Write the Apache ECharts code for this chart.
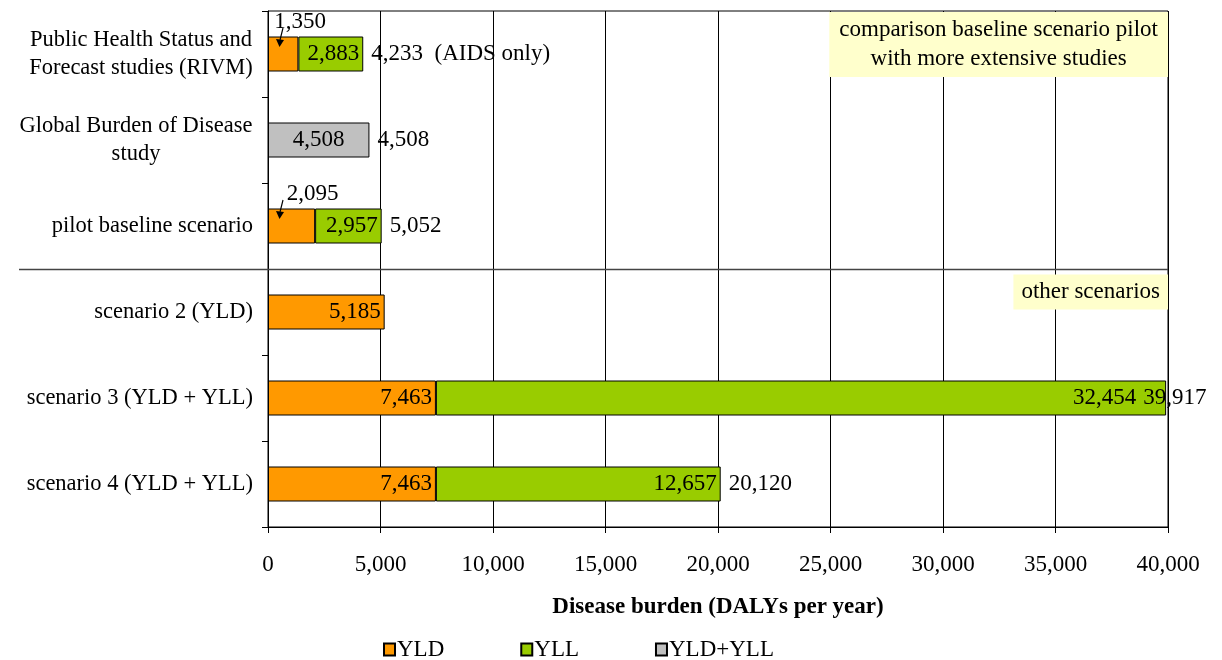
<!DOCTYPE html>
<html><head><meta charset="utf-8">
<script src="https://cdn.jsdelivr.net/npm/echarts@6/dist/echarts.min.js"></script>
<style>html,body{margin:0;padding:0;background:#fff}#c{width:1222px;height:660px}</style>
</head><body><div id="c"></div>
<script>
const categories = ['Public Health Status and\nForecast studies (RIVM)', 'Global Burden of Disease\nstudy', 'pilot baseline scenario', 'scenario 2 (YLD)', 'scenario 3 (YLD + YLL)', 'scenario 4 (YLD + YLL)'];
const yld = [1350, null, 2095, 5185, 7463, 7463];
const yll = [2883, null, 2957, null, 32454, 12657];
const combined = [null, 4508, null, null, null, null];
const totals = [4233, 4508, 5052, null, 39917, 20120];
const totalSuffix = ['  (AIDS only)', '', '', '', '', ''];
const xTicks = {min: 0, max: 40000, step: 5000};

const FONT = '"Liberation Serif", "Times New Roman", serif';
const FS = 23;
const FSC = 22.5;
const fmt = v => Number(v).toLocaleString('en-US');

const mc = document.createElement('canvas').getContext('2d');
mc.font = FSC + 'px "Liberation Serif"';
const rich = {};
const labelFmt = {};
categories.forEach((c, i) => {
  const lines = c.split('\n');
  if (lines.length > 1) {
    const w = Math.max(...lines.map(l => mc.measureText(l).width));
    rich['c' + i] = {width: Math.ceil(w), align: 'center', fontSize: FSC, fontFamily: FONT, color: '#000', lineHeight: 28};
    labelFmt[c] = lines.map(l => '{c' + i + '|' + l + '}').join('\n');
  } else {
    labelFmt[c] = c;
  }
});
mc.font = FS + 'px "Liberation Serif"';

const chart = echarts.init(document.getElementById('c'), null, {renderer: 'canvas'});
const border = {borderColor: '#000', borderWidth: 1};

const yldData = yld.map((v, i) => {
  if (v == null) return null;
  if (i === 0 || i === 2) {
    return {value: v, label: {show: true, position: 'top', distance: 3, offset: [i === 0 ? 17 : 21, 0]}};
  }
  return {value: v};
});
const yllData = yll.map((v, i) => {
  if (v == null) return null;
  if (i === 4) return {value: v, label: {offset: [-26, 0]}};
  return {value: v};
});
const totalData = totals.map((v, i) => v == null ? null : {
  value: [v, i],
  label: i === 4 ? {offset: [-31, 0]} : {}
}).filter(d => d);

const option = {
  animation: false,
  textStyle: {fontFamily: FONT, color: '#000'},
  grid: {left: 268, right: 54, top: 11, bottom: 133, show: true, borderColor: '#000', borderWidth: 1},
  xAxis: {
    type: 'value', min: xTicks.min, max: xTicks.max, interval: xTicks.step,
    name: 'Disease burden (DALYs per year)', nameLocation: 'middle', nameGap: 69,
    nameTextStyle: {fontSize: FS, fontWeight: 'bold', fontFamily: FONT, color: '#000'},
    axisLine: {show: true, lineStyle: {color: '#000', width: 1}},
    axisTick: {show: true, length: 6, lineStyle: {color: '#000'}},
    axisLabel: {formatter: fmt, fontSize: FS, fontFamily: FONT, color: '#000', margin: 26},
    splitLine: {show: true, lineStyle: {color: '#000', width: 1}}
  },
  yAxis: {
    type: 'category', inverse: true, data: categories,
    axisLine: {show: true, lineStyle: {color: '#000', width: 1}},
    axisTick: {show: true, length: 6, lineStyle: {color: '#000'}},
    axisLabel: {formatter: v => labelFmt[v], fontSize: FSC, fontFamily: FONT, color: '#000', margin: 15, rich: rich, lineHeight: 28},
    splitLine: {show: false}
  },
  legend: {
    data: ['YLD', 'YLL', 'YLD+YLL'], left: 383, top: 638, padding: 0,
    icon: 'rect', itemWidth: 11, itemHeight: 12, itemGap: 76,
    textStyle: {fontSize: FS, fontFamily: FONT, color: '#000', padding: [0, 0, 0, -3]}
  },
  series: [
    {name: 'YLD', type: 'bar', stack: 'a', barWidth: 35, data: yldData,
     itemStyle: Object.assign({color: '#FF9900'}, border),
     label: {show: true, position: 'insideRight', distance: 4, formatter: p => fmt(p.value), fontSize: FS, fontFamily: FONT, color: '#000'}},
    {name: 'YLL', type: 'bar', stack: 'a', barWidth: 35, data: yllData,
     itemStyle: Object.assign({color: '#99CC00'}, border),
     label: {show: true, position: 'insideRight', distance: 4, formatter: p => fmt(p.value), fontSize: FS, fontFamily: FONT, color: '#000'}},
    {name: 'YLD+YLL', type: 'bar', stack: 'a', barWidth: 35, data: combined,
     itemStyle: Object.assign({color: '#C0C0C0'}, border),
     label: {show: true, position: 'inside', formatter: p => fmt(p.value), fontSize: FS, fontFamily: FONT, color: '#000'}},
    {name: 'total', type: 'scatter', symbolSize: 0, data: totalData, z: 5,
     itemStyle: {opacity: 1},
     label: {show: true, position: 'right', distance: 8, fontSize: FS, fontFamily: FONT, color: '#000', opacity: 1,
       formatter: p => fmt(p.value[0]) + totalSuffix[p.value[1]]}}
  ]
};
chart.setOption(option);

// annotations computed from the chart's own coordinate system
const px = (x, y) => chart.convertToPixel({gridIndex: 0}, [x, y]);
const p2 = px(0, 2), p3 = px(0, 3);
const sepY = Math.round((p2[1] + p3[1]) / 2) + 0.5;
const rightX = px(xTicks.max, 0)[0];
const topY = px(0, 0)[1] - (p3[1] - p2[1]) / 2;
const zeroX = px(0, 0)[0];
const note1 = 'comparison baseline scenario pilot\nwith more extensive studies';
const note2 = 'other scenarios';
const w1 = Math.max(...note1.split('\n').map(l => mc.measureText(l).width));
const w2 = mc.measureText(note2).width;
const graphics = [
  {type: 'line', shape: {x1: 19, y1: sepY, x2: rightX, y2: sepY}, style: {stroke: '#444', lineWidth: 1.5}, z: 10},
  {type: 'text', x: rightX - (w1 + 20) / 2, y: topY + 1, z: 10,
   style: {text: note1, font: FS + 'px ' + FONT, fill: '#000',
     backgroundColor: '#FFFFCC', padding: [3, 10, 4, 10], lineHeight: 29, align: 'center'}},
  {type: 'text', x: rightX - w2 - 16, y: sepY + 5, z: 10,
   style: {text: note2, font: FS + 'px ' + FONT, fill: '#000',
     backgroundColor: '#FFFFCC', padding: [4, 8, 5, 8], lineHeight: 26}}
];
[0, 2].forEach(i => {
  const c = px(yld[i], i);
  const x1 = zeroX + 15, x2 = zeroX + 12;
  graphics.push({type: 'line', shape: {x1: x1, y1: c[1] - 26, x2: x2, y2: c[1] - 14}, style: {stroke: '#000', lineWidth: 1.2}, z: 11});
  graphics.push({type: 'polygon', shape: {points: [[x2 - 4, c[1] - 15], [x2 + 4, c[1] - 14], [x2 - 0.5, c[1] - 7]]}, style: {fill: '#000'}, z: 11});
});
chart.setOption({graphic: graphics});
</script>
</body></html>
